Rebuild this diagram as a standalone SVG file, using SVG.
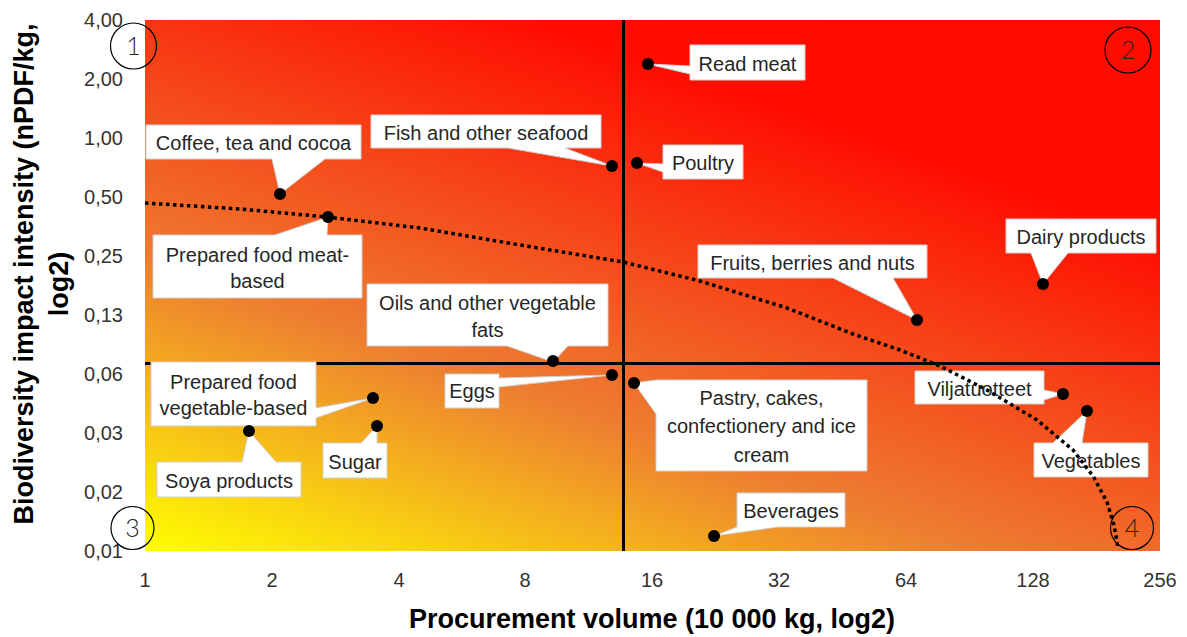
<svg xmlns="http://www.w3.org/2000/svg" width="1187" height="637" viewBox="0 0 1187 637">
<defs>
<linearGradient id="bg" x1="0" y1="1" x2="0.769" y2="-0.154">
<stop offset="0" stop-color="#FFFF00"/>
<stop offset="0.33" stop-color="#ED7D31"/>
<stop offset="0.75" stop-color="#FF0D00"/>
<stop offset="1" stop-color="#FF0A00"/>
</linearGradient>
<style>
text{font-family:"Liberation Sans",Arial,sans-serif;}
.tick{font-size:20px;fill:#333;}
.ty{text-anchor:end;}
.tx{text-anchor:middle;}
.title{font-size:27px;font-weight:bold;fill:#000;text-anchor:middle;}
.call{fill:#fff;stroke:#d0d0d0;stroke-width:1;}
.lbl{font-size:20px;fill:#262626;text-anchor:middle;}
.dot{fill:#000;}
.quad{stroke:#000;stroke-width:3;fill:none;}
.trend{stroke:#000;stroke-width:3.5;fill:none;stroke-dasharray:3.5 3.5;}
.ring{fill:none;stroke:#000;stroke-width:1.2;}
.num{font-family:Lato,"Liberation Sans",sans-serif;font-weight:300;font-size:25px;fill:#262626;text-anchor:middle;}
</style>
</defs>
<rect width="1187" height="637" fill="#fff"/>
<g id="plot-area">
<rect x="145" y="20" width="1015" height="531" fill="url(#bg)"/>
</g>
<g id="axes">
<text class="tick ty" x="123" y="27">4,00</text>
<text class="tick ty" x="123" y="86">2,00</text>
<text class="tick ty" x="123" y="145">1,00</text>
<text class="tick ty" x="123" y="204">0,50</text>
<text class="tick ty" x="123" y="263">0,25</text>
<text class="tick ty" x="123" y="322">0,13</text>
<text class="tick ty" x="123" y="381">0,06</text>
<text class="tick ty" x="123" y="440">0,03</text>
<text class="tick ty" x="123" y="499">0,02</text>
<text class="tick ty" x="123" y="558">0,01</text>
<text class="tick tx" x="145" y="587">1</text>
<text class="tick tx" x="272" y="587">2</text>
<text class="tick tx" x="399" y="587">4</text>
<text class="tick tx" x="525" y="587">8</text>
<text class="tick tx" x="652" y="587">16</text>
<text class="tick tx" x="779" y="587">32</text>
<text class="tick tx" x="906" y="587">64</text>
<text class="tick tx" x="1033" y="587">128</text>
<text class="tick tx" x="1160" y="587">256</text>
<text class="title" x="652" y="628">Procurement volume (10 000 kg, log2)</text>
<text class="title" transform="translate(33,274) rotate(-90)">Biodiversity impact intensity (nPDF/kg,</text>
<text class="title" transform="translate(68,284) rotate(-90)">log2)</text>
</g>
<g id="connectors">
<line class="quad" x1="623.5" y1="20" x2="623.5" y2="551"/>
<line class="quad" x1="145" y1="363.5" x2="1160" y2="363.5"/>
</g>
<g id="coffee">
<path class="call" d="M146,125 H361 V159 H325 L280,194 L272,159 H146 Z"/>
<text class="lbl" x="253.5" y="150">Coffee, tea and cocoa</text>
<circle class="dot" cx="280" cy="194" r="6"/>
</g>
<g id="prepared-meat">
<path class="call" d="M153,235 H275 L328,217 L327,235 H362 V298 H153 Z"/>
<text class="lbl" x="257.5" y="262">Prepared food meat-</text>
<text class="lbl" x="257.5" y="288">based</text>
<circle class="dot" cx="328" cy="217" r="6"/>
</g>
<g id="fish">
<path class="call" d="M371,115 H601 V148 H565 L612,166 L508,148 H371 Z"/>
<text class="lbl" x="486" y="139.5">Fish and other seafood</text>
<circle class="dot" cx="612" cy="166" r="6"/>
</g>
<g id="read-meat">
<path class="call" d="M690,45 H805 V80 H690 V74 L648,64 L690,66 Z"/>
<text class="lbl" x="747.5" y="70.5">Read meat</text>
<circle class="dot" cx="648" cy="64" r="6"/>
</g>
<g id="poultry">
<path class="call" d="M663,145 H743 V179 H663 V172 L637,163 L663,164 Z"/>
<text class="lbl" x="703" y="170">Poultry</text>
<circle class="dot" cx="637" cy="163" r="6"/>
</g>
<g id="fruits">
<path class="call" d="M698,245 H927 V278 H893 L917,320 L833,278 H698 Z"/>
<text class="lbl" x="812.5" y="269.5">Fruits, berries and nuts</text>
<circle class="dot" cx="917" cy="320" r="6"/>
</g>
<g id="dairy">
<path class="call" d="M1006,219 H1156 V253 H1068 L1043,284 L1031,253 H1006 Z"/>
<text class="lbl" x="1081" y="244">Dairy products</text>
<circle class="dot" cx="1043" cy="284" r="6"/>
</g>
<g id="oils">
<path class="call" d="M367,284 H608 V346 H568 L553,362 L507,346 H367 Z"/>
<text class="lbl" x="487.5" y="310">Oils and other vegetable</text>
<text class="lbl" x="487.5" y="337">fats</text>
<circle class="dot" cx="553" cy="361" r="6"/>
</g>
<g id="prepared-veg">
<path class="call" d="M151,362 H316 V408 L373,398 L316,418 V426 H151 Z"/>
<text class="lbl" x="233.5" y="389">Prepared food</text>
<text class="lbl" x="233.5" y="415">vegetable-based</text>
<circle class="dot" cx="373" cy="398" r="6"/>
</g>
<g id="soya">
<path class="call" d="M157,462 H242 L249,431 L276,462 H301 V497 H157 Z"/>
<text class="lbl" x="229" y="487.5">Soya products</text>
<circle class="dot" cx="249" cy="431" r="6"/>
</g>
<g id="sugar">
<path class="call" d="M323,443 H361 L377,426 L377,443 H387 V478 H323 Z"/>
<text class="lbl" x="355" y="469">Sugar</text>
<circle class="dot" cx="377" cy="426" r="6"/>
</g>
<g id="eggs">
<path class="call" d="M445,374 H499 V378 L612,375 L499,387 V408 H445 Z"/>
<text class="lbl" x="472" y="398">Eggs</text>
<circle class="dot" cx="612" cy="375" r="6"/>
</g>
<g id="pastry">
<path class="call" d="M656,380 H867 V471 H656 V414 L634,383 Z"/>
<text class="lbl" x="761.5" y="405">Pastry, cakes,</text>
<text class="lbl" x="761.5" y="433">confectionery and ice</text>
<text class="lbl" x="761.5" y="462">cream</text>
<circle class="dot" cx="634" cy="383" r="6"/>
</g>
<g id="beverages">
<path class="call" d="M737,493 H845 V527 H778 L714,536 L737,527 Z"/>
<text class="lbl" x="791" y="518">Beverages</text>
<circle class="dot" cx="714" cy="536" r="6"/>
</g>
<g id="viljatuotteet">
<path class="call" d="M915,371 H1044 V390 L1063,394 L1044,400 V404 H915 Z"/>
<text class="lbl" x="979.5" y="395.5">Viljatuotteet</text>
<circle class="dot" cx="1063" cy="394" r="6"/>
</g>
<g id="vegetables">
<path class="call" d="M1034,443 H1053 L1087,411 L1082,443 H1148 V477 H1034 Z"/>
<text class="lbl" x="1091" y="468">Vegetables</text>
<circle class="dot" cx="1087" cy="411" r="6"/>
</g>
<g id="trendline">
<polyline class="trend" points="145,203 240,209 327,217 420,228 520,245 623,262 700,281 787,308 853,334 900,350 940,366 987,390 1037,420 1073,450 1093,476 1107,502 1114,525 1118,548"/>
</g>
<g id="quadrant-1">
<circle class="ring" cx="133.5" cy="46" r="23"/>
<text class="num" x="133.5" y="55">1</text>
</g>
<g id="quadrant-2">
<circle class="ring" cx="1128" cy="50" r="23"/>
<text class="num" x="1128" y="59">2</text>
</g>
<g id="quadrant-3">
<circle class="ring" cx="132.5" cy="528" r="21.5"/>
<text class="num" x="132.5" y="537">3</text>
</g>
<g id="quadrant-4">
<circle class="ring" cx="1132" cy="528" r="21.5"/>
<text class="num" x="1132" y="537">4</text>
</g>
</svg>
